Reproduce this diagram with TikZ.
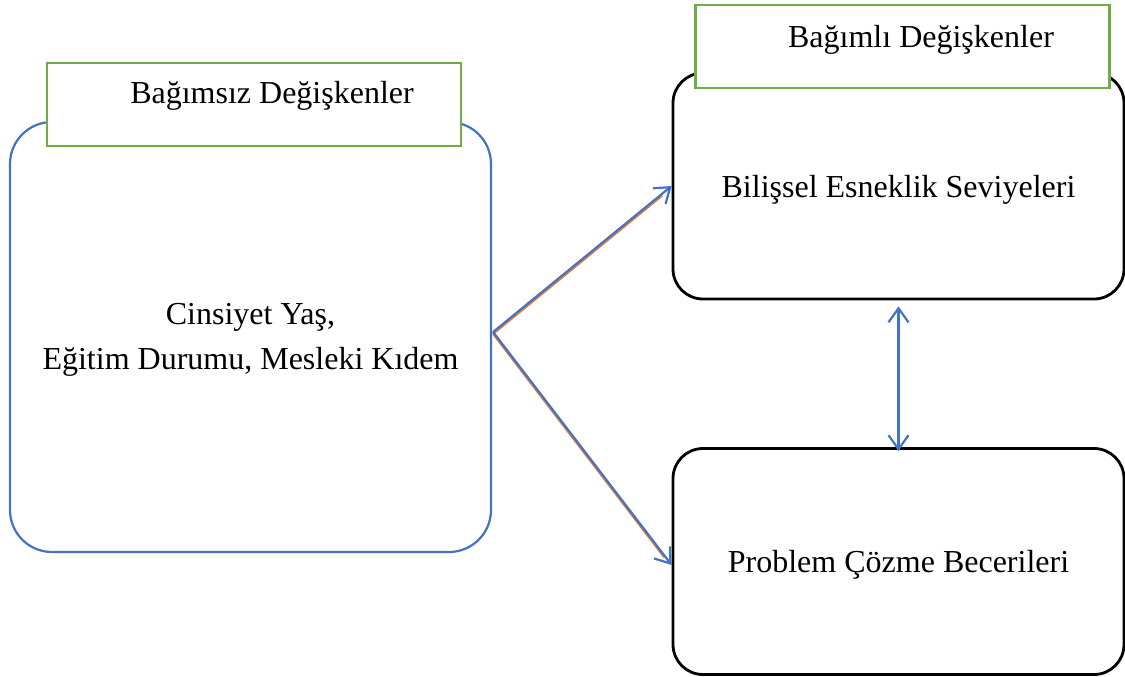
\documentclass[tikz,border=0pt]{standalone}
\usepackage{fontspec}
\setmainfont{Liberation Serif}
\usetikzlibrary{arrows.meta,calc}
\definecolor{ablue}{HTML}{4472C4}
\definecolor{agreen}{HTML}{70AD47}
\definecolor{aorange}{HTML}{ED7D31}
\begin{document}
\begin{tikzpicture}[x=1pt,y=-1pt,
  big/.style={font=\fontsize{32}{45}\selectfont},
  leftbox/.style={big, draw=ablue, line width=2.2pt, rounded corners=42pt,
    minimum width=481pt, minimum height=430pt, inner sep=0pt, align=center},
  rightbox/.style={big, draw=black, line width=2.8pt, rounded corners=30pt,
    minimum width=451pt, minimum height=226pt, inner sep=0pt, align=center,
    text height=26pt, text depth=4pt},
  header/.style={draw=agreen, line width=2.5pt, fill=white,
    minimum width=414pt, minimum height=83pt, inner sep=0pt},
  headtext/.style={big, inner sep=0pt, anchor=base},
  tip/.tip={Straight Barb[length=14pt,width=20pt]},
  link/.style={draw=ablue, line width=2.2pt, -tip},
  shadowline/.style={draw=aorange, line width=2.2pt, shorten >=12pt}]
\useasboundingbox (0,0) rectangle (1125,677);
\node[leftbox] (L) at (250.5,337) {\rule{0pt}{26pt}Cinsiyet Yaş,\\Eğitim Durumu, Mesleki Kıdem};
\node[rightbox] (T) at (898.5,186) {Bilişsel Esneklik Seviyeleri};
\node[rightbox] (B) at (898.5,561.5) {Problem Çözme Becerileri};
\node[header] (H1) at (254,104.5) {};
\node[headtext] (H1t) at (272,103) {Bağımsız Değişkenler};
\node[header] (H2) at (902.5,46.5) {};
\node[headtext] (H2t) at (921,48) {Bağımlı Değişkenler};
\coordinate (S) at ($(L.east)+(1,-5)$);
\draw[shadowline] ($(S)+(0,1.8)$) -- ($(T.west)+(0,1.8)$);
\draw[shadowline] ($(S)+(0,1.8)$) -- ($(B.west)+(0,5.3)$);
\draw[link] (S) -- (T.west);
\draw[link] (S) -- ($(B.west)+(0,3.5)$);
\draw[link, tip-tip] ($(T.south)+(0,6)$) -- ($(B.north)+(0,4)$);
\end{tikzpicture}
\end{document}
